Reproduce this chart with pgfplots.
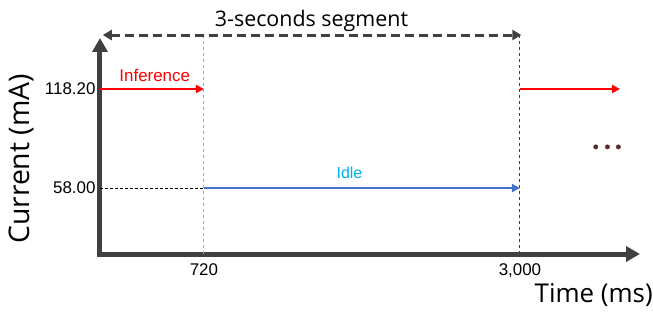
\documentclass[border=0pt]{standalone}
\usepackage{pgfplots}
\pgfplotsset{compat=1.18}
\usepackage{fontspec}
\setmainfont{Liberation Sans}
\newfontfamily\segoe{Open Sans}
\usetikzlibrary{arrows.meta}
\definecolor{axgray}{HTML}{404040}
\definecolor{idleblue}{HTML}{4472C4}
\definecolor{idletext}{HTML}{00B0F0}
\definecolor{dotbrown}{HTML}{5B2B2B}
\begin{document}
\begin{tikzpicture}
\path[use as bounding box] (-100bp,-60bp) rectangle (553bp,254bp);
\begin{axis}[
  at={(0,0)}, anchor=south west,
  scale only axis, width=540bp, height=216bp,
  xmin=-30, xmax=3866, ymin=17.9, ymax=149.2,
  clip=false,
  axis lines=left,
  axis line style={line width=5bp, color=axgray, line cap=rect, -{Triangle[length=14bp,width=15bp]}},
  major tick length=0pt,
  xtick={720,3000}, xticklabels={720,{3,000}},
  ytick={58,118.2}, yticklabels={58.00,118.20},
  tick label style={font=\fontsize{17}{19}\selectfont, color=black},
  xticklabel style={yshift=-6bp},
  yticklabel style={xshift=-1bp},
  xlabel={\segoe Time (ms)},
  xlabel style={at={(rel axis cs:1.024,-0.19)}, anchor=east, font=\fontsize{26}{30}\selectfont, inner sep=0pt},
  ylabel={\segoe Current (mA)},
  ylabel style={at={(rel axis cs:-0.146,0.44)}, anchor=center, font=\fontsize{28.5}{32}\selectfont, inner sep=0pt},
]
% guide lines
\addplot[color=gray!70, line width=1bp, dash pattern=on 3bp off 3bp] coordinates {(720,17.9) (720,151)};
\addplot[color=axgray, line width=1bp, dash pattern=on 3bp off 3bp] coordinates {(3000,17.9) (3000,151)};
\addplot[color=black, line width=0.8bp, dash pattern=on 3bp off 2bp] coordinates {(-30,58) (720,58)};
% segment arrow
\addplot[color=axgray, line width=3bp, dash pattern=on 9bp off 5bp, {Triangle[length=9bp,width=10bp]}-{Triangle[length=9bp,width=10bp]}] coordinates {(-10,151) (3010,151)};
% inference
\addplot[color=red, line width=2.5bp, -{Triangle[length=8bp,width=8bp]}] coordinates {(-30,118.2) (720,118.2)};
\addplot[color=red, line width=2.5bp, -{Triangle[length=8bp,width=8bp]}] coordinates {(3000,118.2) (3722,118.2)};
% idle
\addplot[color=idleblue, line width=2.5bp, -{Triangle[length=8bp,width=8bp]}] coordinates {(720,58) (3000,58)};
% dots
\addplot[only marks, mark=*, mark size=2.2bp, color=dotbrown] coordinates {(3547,83) (3631,83) (3710,83)};
\node[font=\fontsize{17}{19}\selectfont, color=red] at (axis cs:365,126.5) {Inference};
\node[font=\fontsize{16}{18}\selectfont, color=idletext] at (axis cs:1770,67) {Idle};
\node[font=\segoe\fontsize{21.5}{24}\selectfont, color=black] at (axis cs:1496,159.5) {3-seconds segment};
\end{axis}
\end{tikzpicture}
\end{document}
